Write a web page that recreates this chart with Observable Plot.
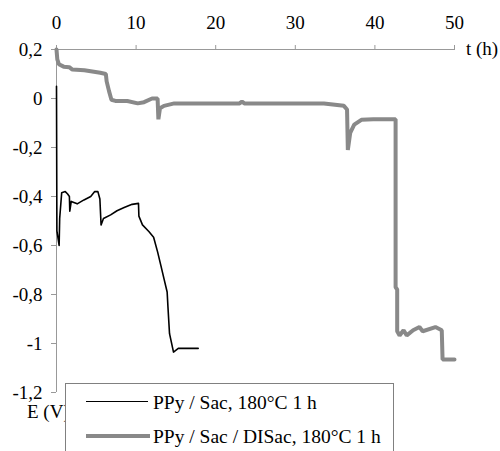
<!DOCTYPE html>
<html><head><meta charset="utf-8">
<script src="https://cdn.jsdelivr.net/npm/d3@7"></script>
<script src="https://cdn.jsdelivr.net/npm/@observablehq/plot@0.6"></script>
<style>
body{margin:0;background:#fff;}
#wrap{position:relative;width:500px;height:451px;overflow:hidden;font-family:'Liberation Serif';}
#wrap svg text{font-family:'Liberation Serif' !important;}
.lbl{position:absolute;font-family:'Liberation Serif';font-size:19px;color:#000;white-space:nowrap;line-height:1;}
#legend{position:absolute;left:65px;top:383px;width:327px;height:90px;border:1px solid #808080;background:#fff;}
.lg{position:absolute;left:20px;height:0;}
.lt{position:absolute;left:87px;font-family:'Liberation Serif';font-size:19.5px;white-space:nowrap;line-height:1;}
</style></head>
<body>
<div id="wrap"></div>
<script>
const xTicks = [0, 10, 20, 30, 40, 50];
const yTicks = [0.2, 0, -0.2, -0.4, -0.6, -0.8, -1, -1.2];
const seriesNames = ["PPy / Sac, 180°C 1 h", "PPy / Sac / DISac, 180°C 1 h"];
const axisTitles = ["t (h)", "E (V)"];

// PPy / Sac (black)
const sacT = [0, 0.05, 0.33, 0.4, 0.65, 1.1, 1.4, 1.62, 1.67, 1.85, 2.6, 3.45, 4.3, 4.8, 5.2, 5.45, 5.6, 5.9, 6.8, 7.6, 8.5, 9.5, 10.3, 10.35, 10.8, 11.6, 12.2, 12.7, 13.1, 13.5, 13.9, 14.0, 14.2, 14.7, 15.3, 17.8];
const sacE = [0.05, -0.54, -0.60, -0.49, -0.385, -0.38, -0.39, -0.40, -0.46, -0.42, -0.43, -0.414, -0.40, -0.38, -0.38, -0.41, -0.516, -0.49, -0.475, -0.458, -0.445, -0.432, -0.428, -0.48, -0.516, -0.543, -0.566, -0.626, -0.68, -0.735, -0.79, -0.85, -0.96, -1.035, -1.02, -1.02];

// PPy / Sac / DISac (gray)
const disacT = [0, 0.1, 0.3, 0.9, 1.6, 2.0, 3.5, 5.5, 6.2, 6.3, 6.6, 6.9, 7.4, 8.9, 10.2, 11.0, 12.0, 12.7, 12.8, 13.0, 13.5, 14.8, 18.1, 23.0, 23.3, 23.6, 28.0, 32.7, 33.6, 36.1, 36.5, 36.6, 36.9, 37.4, 38.3, 39.8, 42.6, 42.6, 42.8, 42.8, 43.1, 43.6, 44.0, 44.8, 45.6, 46.0, 47.6, 48.4, 48.5, 50];
const disacE = [0.2, 0.16, 0.14, 0.13, 0.128, 0.118, 0.115, 0.105, 0.10, 0.07, 0.03, -0.005, -0.01, -0.01, -0.02, -0.015, 0.0, 0.0, -0.085, -0.04, -0.03, -0.02, -0.02, -0.02, -0.012, -0.02, -0.02, -0.02, -0.02, -0.03, -0.045, -0.21, -0.14, -0.107, -0.087, -0.085, -0.085, -0.77, -0.78, -0.95, -0.967, -0.946, -0.967, -0.946, -0.933, -0.95, -0.933, -0.946, -1.065, -1.065];

const sac = sacT.map((t, i) => ({t, e: sacE[i]}));
const disac = disacT.map((t, i) => ({t, e: disacE[i]}));
const fmt = d => d === 0 ? "0" : String(d).replace(".", ",");

const chart = Plot.plot({
  width: 500, height: 451,
  marginLeft: 56, marginRight: 46, marginTop: 49, marginBottom: 59,
  style: {fontFamily: "Liberation Serif", fontSize: "19px", color: "#000", background: "#fff", overflow: "visible"},
  x: {domain: [0, 50], axis: null},
  y: {domain: [-1.2, 0.2], axis: null},
  marks: [
    Plot.axisX({anchor: "top", ticks: xTicks, tickSize: 5, tickPadding: 16, stroke: "#999", fill: "#000", tickFormat: d => String(d), label: null, fontFamily: "Liberation Serif"}),
    Plot.axisY({anchor: "left", ticks: yTicks, tickSize: 5, tickPadding: 9, stroke: "#999", fill: "#000", tickFormat: fmt, label: null, fontFamily: "Liberation Serif"}),
    Plot.ruleY([0.2], {stroke: "#999"}),
    Plot.ruleX([0], {stroke: "#999"}),
    Plot.line(disac, {x: "t", y: "e", stroke: "#898989", strokeWidth: 4, strokeLinejoin: "miter"}),
    Plot.line(sac, {x: "t", y: "e", stroke: "#000", strokeWidth: 1.6})
  ]
});
const wrap = document.getElementById("wrap");
wrap.appendChild(chart);

const tl = document.createElement("div");
tl.className = "lbl"; tl.textContent = axisTitles[0];
tl.style.left = "466px"; tl.style.top = "39px";
wrap.appendChild(tl);
const el = document.createElement("div");
el.className = "lbl"; el.textContent = axisTitles[1];
el.style.left = "27px"; el.style.top = "402px";
wrap.appendChild(el);

const lg = document.createElement("div");
lg.id = "legend";
lg.innerHTML = `
<div class="lg" style="top:17px;width:62px;border-top:1.6px solid #000;"></div>
<div class="lt" style="top:9px;">${seriesNames[0]}</div>
<div class="lg" style="top:50px;width:64px;border-top:4px solid #898989;"></div>
<div class="lt" style="top:43px;">${seriesNames[1]}</div>`;
wrap.appendChild(lg);
</script>
</body></html>
